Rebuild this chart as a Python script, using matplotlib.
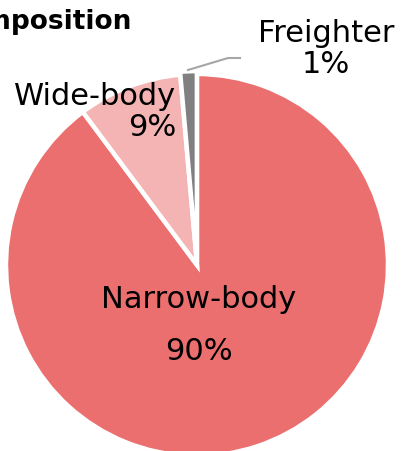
import matplotlib.pyplot as plt

labels = ['Narrow-body', 'Wide-body', 'Freighter']
values = [89.8, 8.8, 1.4]
pct_labels = ['90%', '9%', '1%']
colors = ['#EB6F6F', '#F4B4B4', '#808080']

W, H = 403, 452
cx, cy, r = 197, 266, 191

fig = plt.figure(figsize=(W / 100, H / 100), dpi=100)
ax = fig.add_axes([0, 0, 1, 1])

wedges, _ = ax.pie(values, colors=colors, startangle=90, counterclock=False,
                   radius=1, explode=[0, 0, 0.015],
                   wedgeprops=dict(edgecolor='white', linewidth=3.2))
ax.set_aspect('auto')
ax.set_xlim(-cx / r, (W - cx) / r)
ax.set_ylim(-(H - cy) / r, cy / r)
ax.axis('off')

def px(x, y):
    return ((x - cx) / r, (cy - y) / r)

fs = 22
ax.text(*px(199, 300), labels[0], ha='center', va='center', fontsize=fs)
ax.text(*px(199, 352), pct_labels[0], ha='center', va='center', fontsize=fs)
ax.text(*px(176, 112), labels[1] + '\n' + pct_labels[1], ha='right', va='center',
        fontsize=fs, linespacing=1.1)
ax.text(*px(326, 49), labels[2] + '\n' + pct_labels[2], ha='center', va='center',
        fontsize=fs, linespacing=1.1)

# leader line for freighter
pts = [px(188, 71), px(228, 59), px(240, 59)]
ax.plot([p[0] for p in pts], [p[1] for p in pts], color='#A6A6A6', lw=1.5)

fig.text(131 / W, 1 - 22 / H, 'Fleet composition', ha='right', va='center',
         fontsize=19, fontweight='bold')

fig.savefig('out.png', dpi=100)
